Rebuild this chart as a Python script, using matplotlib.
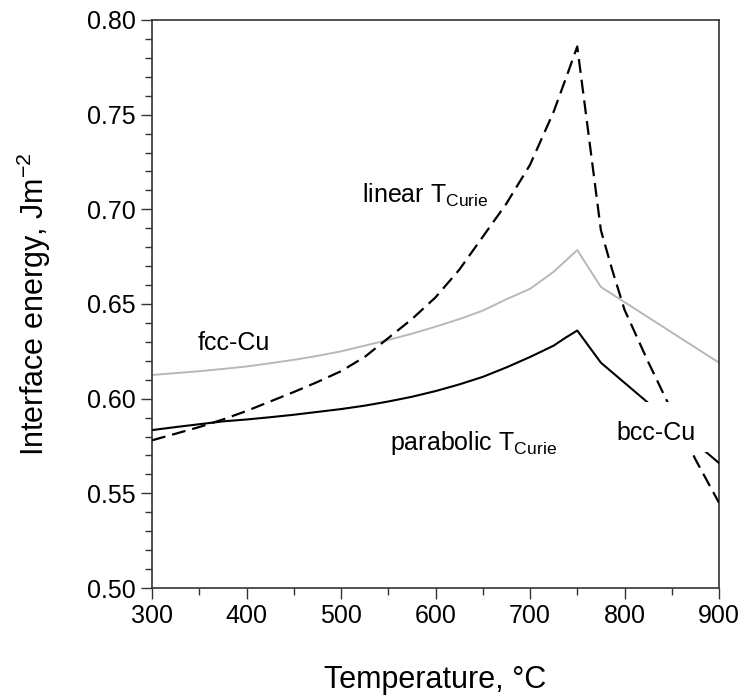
import numpy as np
import matplotlib
matplotlib.use('agg')
import matplotlib.pyplot as plt
from matplotlib.ticker import MultipleLocator
from matplotlib.patches import Rectangle

plt.rcParams['font.family'] = ['Liberation Sans', 'DejaVu Sans']
plt.rcParams['mathtext.default'] = 'regular'
plt.rcParams['lines.scale_dashes'] = False

# values
t_fcc = [300, 325, 350, 375, 400, 425, 450, 475, 500, 525, 550, 575, 600, 625, 650, 675, 700, 725, 737,
         750, 775, 900]
e_fcc = [0.6125, 0.6135, 0.6145, 0.6157, 0.617, 0.6187, 0.6205, 0.6226, 0.625, 0.628, 0.631, 0.6343,
         0.638, 0.642, 0.6465, 0.6525, 0.658, 0.667, 0.6725, 0.6785, 0.659, 0.619]

t_parab = [300, 325, 350, 375, 400, 425, 450, 475, 500, 525, 550, 575, 600, 625, 650, 675, 700, 725, 737,
           750, 775, 900]
e_parab = [0.5834, 0.585, 0.5865, 0.588, 0.589, 0.5902, 0.5915, 0.593, 0.5945, 0.5963, 0.5985, 0.601,
           0.604, 0.6075, 0.6115, 0.6165, 0.622, 0.628, 0.632, 0.636, 0.619, 0.566]

t_lin = [300, 325, 350, 375, 400, 425, 450, 475, 500, 525, 550, 575, 600, 625, 650, 675, 700, 725, 740,
         750, 775, 787, 800, 825, 850, 875, 900]
e_lin = [0.578, 0.5815, 0.585, 0.589, 0.5935, 0.5985, 0.6035, 0.6088, 0.6145, 0.622, 0.632, 0.642,
         0.6535, 0.668, 0.6855, 0.703, 0.7235, 0.7515, 0.772, 0.786,
         0.689, 0.668, 0.647, 0.6195, 0.5935, 0.568, 0.545]

fig = plt.figure(figsize=(7.43, 7.0), dpi=100)
ax = fig.add_axes([152/743, 1-588/700, 567/743, 568/700])

ax.plot(t_fcc, e_fcc, color='#b8b8b8', lw=1.4, zorder=2)
ax.plot(t_parab, e_parab, color='black', lw=1.5, zorder=3)
ax.plot(t_lin, e_lin, color='black', lw=1.6, dashes=(10, 5), zorder=3)

ax.set_xlim(300, 900)
ax.set_ylim(0.50, 0.80)
ax.xaxis.set_major_locator(MultipleLocator(100))
ax.xaxis.set_minor_locator(MultipleLocator(50))
ax.yaxis.set_major_locator(MultipleLocator(0.05))
ax.yaxis.set_minor_locator(MultipleLocator(0.01))
ax.yaxis.set_major_formatter(plt.FormatStrFormatter('%.2f'))
ax.tick_params(which='both', direction='out', top=False, right=False, color='#333333', width=1)
ax.tick_params(which='major', length=8, labelsize=18)
ax.tick_params(which='minor', length=5)
for s in ax.spines.values():
    s.set_color('#333333')
    s.set_linewidth(1.2)

ax.set_xlabel('Temperature, °C', fontsize=22)
ax.set_ylabel('Interface energy, Jm$^{-2}$', fontsize=22)
ax.xaxis.set_label_coords(0.5, -0.135)
ax.yaxis.set_label_coords(-0.175, 0.5)

ax.text(348, 0.6257, 'fcc-Cu', fontsize=18)
ax.text(522, 0.7033, r'linear T$_{Curie}$', fontsize=18)
ax.text(552, 0.5728, r'parabolic T$_{Curie}$', fontsize=18)
# white patch behind the bcc-Cu label hides the curves there
ax.add_patch(Rectangle((780, 0.5718), 115, 0.0267, fc='white', ec='none', zorder=4))
ax.text(792, 0.5781, 'bcc-Cu', fontsize=18, zorder=5)

plt.savefig('out.png', dpi=100)
